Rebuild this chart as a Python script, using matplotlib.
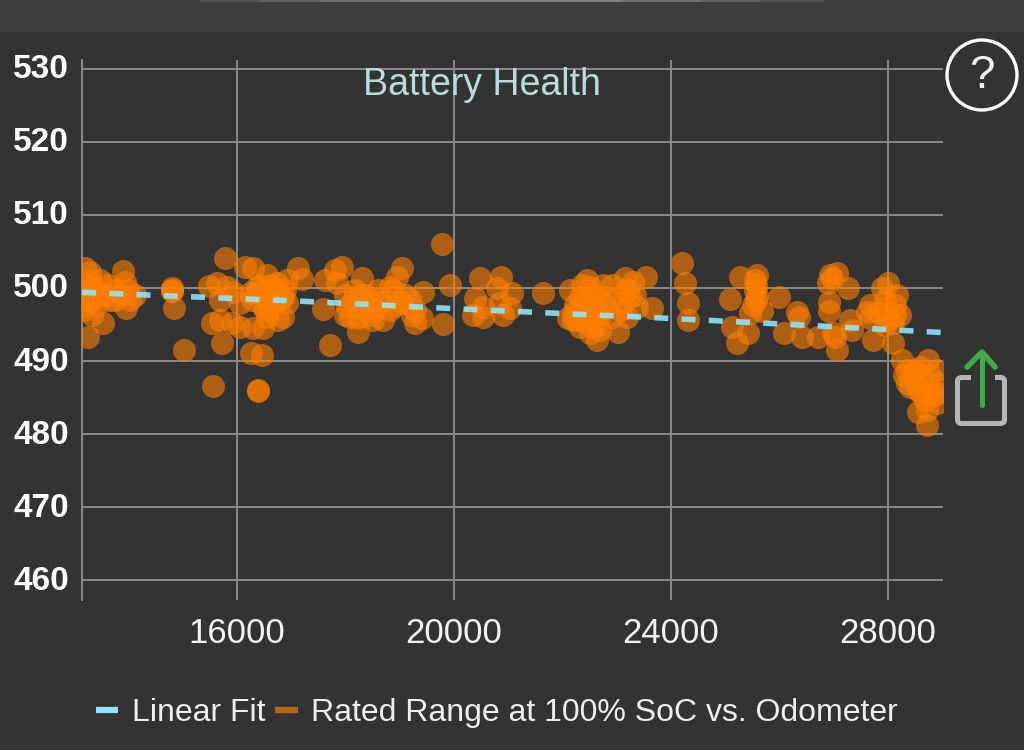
import matplotlib
matplotlib.use('Agg')
import matplotlib.pyplot as plt
from matplotlib.lines import Line2D
from matplotlib.patches import Circle, FancyBboxPatch, Rectangle
from matplotlib.transforms import ScaledTranslation

plt.rcParams['font.family'] = ['Liberation Sans', 'DejaVu Sans']

# odometer / rated range
odometer = [
    13200, 13220, 13250, 13180, 13250, 13330, 13480, 13570, 13530, 13900, 13950, 13750, 13840, 13990, 14120, 13420, 13660,
    13290, 13380, 13250, 13200, 13330, 13480, 13620, 13750, 13940, 14030, 13290, 13200,
    14800, 14800, 14810, 14840, 15020, 15480, 15780, 16150, 16290, 16550, 17120, 17200, 15560, 16390, 16380,
    15720, 16260, 16460, 15540, 15690, 15910, 16060, 16290, 16480, 15630, 15820, 15930, 15690, 16060, 16370,
    16480, 16740, 16850, 16920, 16610, 16850, 16760, 16550, 16370, 16920, 16650, 16550, 16740, 16520, 16700,
    16240, 16420, 16610, 16790, 16460, 16880, 16650, 16280,
    17620, 17580, 17710, 17810, 17840, 17940, 18300, 19040, 18950, 18820, 18230, 19780, 19930, 19800, 19430,
    19280, 19410, 19190, 19280, 19000, 18870, 18690, 18510, 18400, 18140, 18080, 18270, 18450, 18600, 18030,
    18820, 19060, 17990, 18170, 18360, 18490,
    18170, 18360, 18270, 18540, 17990, 18730, 18450, 18910, 19230, 19100, 18230,
    20480, 20870, 20390, 21070, 20790, 20350, 20530, 20900, 20850, 20530, 21030, 21640,
    22140, 22450, 23150, 23540, 23650, 22630, 23020, 22190, 22320, 22510, 22690, 22320, 22510, 22560, 22750,
    22910, 23300, 23240, 23370, 23190, 22930, 22470, 22560, 22190, 23110, 22410, 22630, 22270, 22100, 22690, 23210,
    22280, 22410, 22600, 22690, 22510, 22780, 22230, 22360, 22630, 22880, 23150, 23340, 23060,
    24200, 24260, 24310, 24310, 25090, 25270, 25580, 25550, 25570, 25990, 25120, 25220, 25420, 25450, 25680,
    25560, 25510, 25550, 25580, 26320, 26360, 26080, 26410, 26710, 27020, 27060, 26930, 27060, 26890, 26970, 27260, 26910,
    26910, 27300, 27330, 26980, 27610, 27810, 27720, 28000, 27890, 28160, 28220, 28090, 28000, 28090, 28260,
    27670, 27940, 28130, 28130, 27940,
    28350, 28350, 28460, 28730, 28590, 28900, 28900, 28550, 28770, 28550, 28720, 28720, 28900, 28920, 28680,
    28400, 28640, 27940, 27670, 28500, 28770, 28620, 28860, 28500, 28290,
]
rated_range = [
    502.7, 500.4, 499.0, 497.0, 493.3, 498.4, 501.1, 499.0, 495.2, 502.3, 497.3, 499.7, 499.0, 499.7, 499.0, 497.7, 498.4,
    501.1, 499.7, 497.7, 499.7, 496.3, 499.0, 500.4, 498.4, 500.8, 498.4, 502.2, 498.4,
    500.0, 499.7, 499.6, 497.3, 491.5, 500.3, 504.1, 502.9, 502.7, 501.8, 502.7, 501.2, 486.6, 486.0, 485.9,
    492.5, 491.1, 490.8, 495.2, 495.6, 495.2, 494.7, 494.5, 494.5, 500.7, 500.1, 499.5, 498.4, 497.9, 500.1,
    498.8, 499.7, 498.8, 501.1, 497.0, 496.0, 495.6, 496.0, 499.3, 498.0, 500.1, 498.4, 500.7, 497.0, 498.4,
    499.3, 500.4, 500.4, 498.4, 497.7, 499.7, 499.3, 498.4,
    501.1, 497.1, 492.2, 502.5, 500.7, 502.9, 501.4, 502.7, 501.5, 500.1, 494.0, 506.0, 500.4, 495.1, 499.5,
    495.2, 495.9, 498.4, 497.0, 498.4, 499.7, 495.6, 495.6, 498.4, 498.4, 496.0, 497.4, 497.9, 499.7, 497.4,
    497.0, 497.9, 499.0, 499.7, 499.0, 498.6,
    497.7, 497.0, 499.0, 497.0, 496.3, 498.4, 496.3, 497.7, 496.3, 499.0, 495.9,
    501.4, 501.5, 498.6, 499.3, 500.0, 496.3, 497.4, 496.3, 497.9, 496.0, 497.3, 499.3,
    499.7, 501.1, 501.4, 501.5, 497.3, 492.9, 494.0, 495.6, 494.7, 493.8, 494.2, 498.8, 500.1, 497.4, 500.4,
    500.4, 500.8, 498.8, 497.4, 496.0, 496.0, 496.0, 494.7, 496.6, 497.9, 498.6, 496.6, 495.6, 495.9, 498.4, 499.7,
    497.0, 495.3, 499.0, 496.3, 498.4, 497.7, 497.7, 500.4, 494.9, 498.4, 499.7, 499.0, 497.0,
    503.4, 500.7, 497.9, 495.6, 498.5, 501.5, 501.8, 499.7, 498.4, 498.8, 494.7, 492.5, 493.8, 496.6, 496.8,
    500.4, 497.7, 501.1, 499.0, 496.7, 496.0, 493.8, 493.3, 493.3, 493.3, 491.5, 501.8, 502.1, 500.7, 501.4, 500.0, 498.1,
    496.8, 495.6, 494.2, 493.8, 496.7, 496.7, 492.9, 500.7, 500.0, 499.0, 496.3, 495.2, 495.6, 492.5, 490.1,
    497.7, 498.4, 497.7, 496.3, 494.9,
    488.8, 487.0, 488.4, 490.1, 489.2, 488.8, 487.0, 486.0, 485.6, 483.0, 481.2, 483.3, 484.2, 485.6, 484.7,
    486.4, 487.4, 497.0, 495.9, 487.4, 488.1, 485.3, 485.3, 488.8, 488.1,
]

fit_x = [13143, 17160, 19930, 23800, 26750, 29014]
fit_y = [499.4, 498.2, 497.2, 495.9, 494.8, 493.9]

x_ticks = [16000, 20000, 24000, 28000]
y_ticks = [460, 470, 480, 490, 500, 510, 520, 530]

BG = '#333333'
GRID = '#8a8a8a'

fig = plt.figure(figsize=(10.24, 7.5), dpi=100, facecolor=BG)
ax = fig.add_axes([82/1024, 1 - 600/750, (943 - 82)/1024, 540/750], facecolor=BG)

ax.scatter(odometer, rated_range, s=275, color='#ff7f00', alpha=0.6, linewidths=0, zorder=3)
ax.plot(fit_x, fit_y, color='#8fe8ff', lw=4, alpha=0.88, dashes=(2.52, 2.39), dash_capstyle='butt', zorder=4)

ax.set_xlim(13143, 29014)
ax.set_ylim(457.3, 531.2)
ax.set_xticks(x_ticks)
ax.set_yticks(y_ticks)
ax.grid(True, color=GRID, lw=1.4, zorder=1)
ax.set_axisbelow(True)
ax.tick_params(length=0)
ax.tick_params(axis='x', labelsize=25, labelcolor='#f2f2f2', pad=12.5)
ax.tick_params(axis='y', labelsize=24, labelcolor='white', pad=9.5)
up = ScaledTranslation(0, 2.5/100, fig.dpi_scale_trans)
for lab in ax.get_yticklabels():
    lab.set_fontweight('bold')
    lab.set_transform(lab.get_transform() + up)
for side in ['top', 'right', 'bottom']:
    ax.spines[side].set_visible(False)
ax.spines['left'].set_color(GRID)
ax.spines['left'].set_linewidth(1.4)

ax.text(0.464, 0.953, 'Battery Health', transform=ax.transAxes, ha='center', va='center',
        fontsize=27, color='#b9dcd8', zorder=6)

handles = [Line2D([], [], color='#8fe3ff', lw=4.5, solid_capstyle='butt'),
           Line2D([], [], color='#b8690f', lw=4.5, solid_capstyle='butt')]
fig.legend(handles, ['Linear Fit', 'Rated Range at 100% SoC vs. Odometer'],
           loc='center', bbox_to_anchor=(497/1024, 1 - 713/750), ncol=2, frameon=False,
           fontsize=23, labelcolor='#eeeeee', handlelength=0.7, handletextpad=0.42, columnspacing=0.32)

# overlay in pixel coordinates for the app chrome
over = fig.add_axes([0, 0, 1, 1], facecolor='none')
over.set_xlim(0, 1024)
over.set_ylim(750, 0)
over.axis('off')
over.add_patch(Rectangle((0, 0), 1024, 32, color='#3e3e3e', lw=0))
for x0, x1 in [(200, 824), (260, 760), (320, 700), (400, 620)]:
    over.plot([x0, x1], [1, 1], color='white', lw=1.5, alpha=0.1, solid_capstyle='butt')

over.add_patch(Circle((982, 75), 35, fill=False, ec='white', lw=2.4))
over.text(982, 76, '?', color='#f2f2f2', fontsize=33, ha='center', va='center')

# share icon
over.add_patch(FancyBboxPatch((957.5, 377.5), 47, 46, boxstyle='round,pad=0,rounding_size=4',
                              fill=False, ec='#b5b5b5', lw=3.6))
over.add_patch(Rectangle((971, 370), 24, 15, color=BG, lw=0))
over.plot([982, 982], [405, 354], color='#43a84a', lw=3.6, solid_capstyle='round')
over.plot([967, 982, 995], [367, 352, 367], color='#43a84a', lw=4, solid_capstyle='round')

fig.savefig('out.png', dpi=100, facecolor=BG)
